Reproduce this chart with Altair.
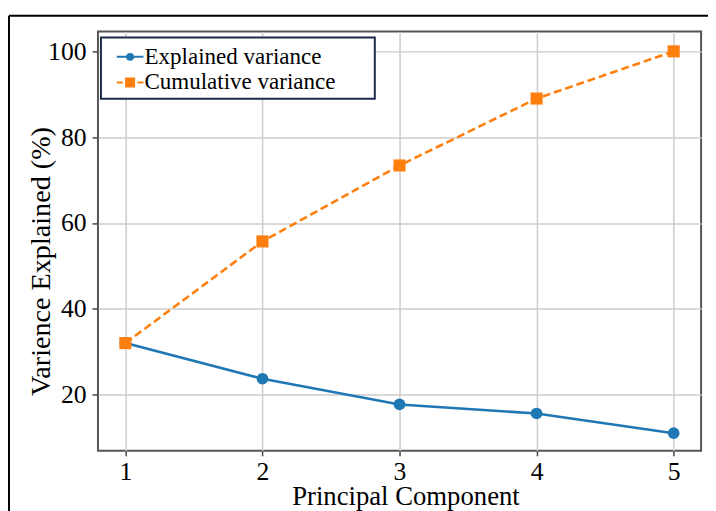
import altair as alt
import pandas as pd

# ---- data ----
components = [1, 2, 3, 4, 5]
explained = [32.0, 23.7, 17.7, 15.6, 11.0]
cumulative = [32.0, 55.7, 73.4, 89.0, 100.0]
series_names = ["Explained variance", "Cumulative variance"]
series_colors = ["#1f77b4", "#ff7f0e"]
x_ticks = [1, 2, 3, 4, 5]
y_ticks = [20, 40, 60, 80, 100]

df = pd.DataFrame({
    "component": components * 2,
    "value": explained + cumulative,
    "series": [series_names[0]] * len(components) + [series_names[1]] * len(components),
})

FONT = "Liberation Serif"

x_enc = alt.X(
    "component:Q",
    scale=alt.Scale(domain=[0.8, 5.2], nice=False, zero=False),
    axis=alt.Axis(
        values=x_ticks, format="d", title="Principal Component",
        tickSize=5, labelPadding=3, labelFontSize=26,
        titleFontSize=27, titleX=311, titleY=54,
        titleBaseline="alphabetic", titleAlign="center",
    ),
)
y_enc = alt.Y(
    "value:Q",
    scale=alt.Scale(domain=[6.9, 104.6], nice=False, zero=False),
    axis=alt.Axis(
        values=y_ticks, title="Varience Explained (%)",
        tickSize=6, labelPadding=6, labelFontSize=26,
        titleFontSize=28.5, titleAngle=270, titleX=-58, titleY=232,
        titleBaseline="middle", titleAlign="center",
    ),
)

# legend symbols: a short line with the marker on it
circle_path = "M-1,0H1M0.22,0A0.22,0.22,0,1,1,-0.22,0A0.22,0.22,0,1,1,0.22,0Z"
square_path = "M-1,0H-0.55M0.55,0H1M-0.3,-0.3H0.3V0.3H-0.3Z"
blank_pad = "\u2800\u2800"

legend = alt.Legend(
    title=None, orient="none", legendX=3, legendY=6, direction="vertical",
    symbolSize=729, symbolStrokeWidth=2, symbolOpacity=1,
    labelFont=FONT, labelFontSize=23.3, labelColor="black", labelLimit=500,
    labelOffset=0, symbolOffset=10, padding=5, rowPadding=0,
    strokeColor="#1b2b4b", fillColor="white", cornerRadius=0,
    labelExpr="datum.label + '" + blank_pad + "'",
)


def series_data(i):
    return alt.Chart(df).transform_filter(alt.datum.series == series_names[i])


line_explained = series_data(0).mark_line(
    color=series_colors[0], strokeWidth=2.6
).encode(x=x_enc, y=y_enc)

line_cumulative = series_data(1).mark_line(
    color=series_colors[1], strokeWidth=2.6, strokeDash=[8, 4]
).encode(x=x_enc, y=y_enc)

pts_explained = series_data(0).mark_point(
    filled=True, opacity=1, shape="circle", size=140, color=series_colors[0]
).encode(x=x_enc, y=y_enc)

pts_cumulative = series_data(1).mark_point(
    filled=True, opacity=1, shape="square", size=150, color=series_colors[1]
).encode(x=x_enc, y=y_enc)

# layer that only carries the legend: its marks sit outside the clipped view
color_scale = alt.Scale(domain=series_names, range=series_colors)
legend_layer = alt.Chart(df).transform_calculate(
    hidden_x="-100"
).mark_point(opacity=1, strokeWidth=2, clip=True).encode(
    x=alt.X("hidden_x:Q"), y=y_enc,
    fill=alt.Fill("series:N", scale=color_scale, legend=legend),
    stroke=alt.Stroke("series:N", scale=color_scale, legend=legend),
    shape=alt.Shape("series:N", scale=alt.Scale(domain=series_names, range=[circle_path, square_path]), legend=legend),
)

frame_df = pd.DataFrame({"k": [0]})
top_rule = alt.Chart(frame_df).mark_rule(color="black", strokeWidth=2).encode(
    x=alt.value(-90), x2=alt.value(640), y=alt.value(-16)
)
left_rule = alt.Chart(frame_df).mark_rule(color="black", strokeWidth=2).encode(
    x=alt.value(-90), y=alt.value(-16), y2=alt.value(500)
)

chart = alt.layer(
    top_rule, left_rule, line_explained, line_cumulative,
    pts_explained, pts_cumulative, legend_layer
).properties(
    width=610, height=424,
    padding={"left": 91, "top": 21, "right": 7, "bottom": 58},
    autosize=alt.AutoSizeParams(type="none"),
    background="white",
).configure_view(
    stroke="#555555", strokeWidth=2,
).configure_axis(
    labelFont=FONT, titleFont=FONT, labelColor="black", titleColor="black",
    titleFontWeight="normal", domain=False,
    tickColor="#444444", tickWidth=1.5,
    grid=True, gridColor="#cccccc", gridWidth=1.5,
).configure_legend(
    strokeWidth=2,
)

chart.save("out.html", embed_options={"renderer": "svg", "actions": False})
